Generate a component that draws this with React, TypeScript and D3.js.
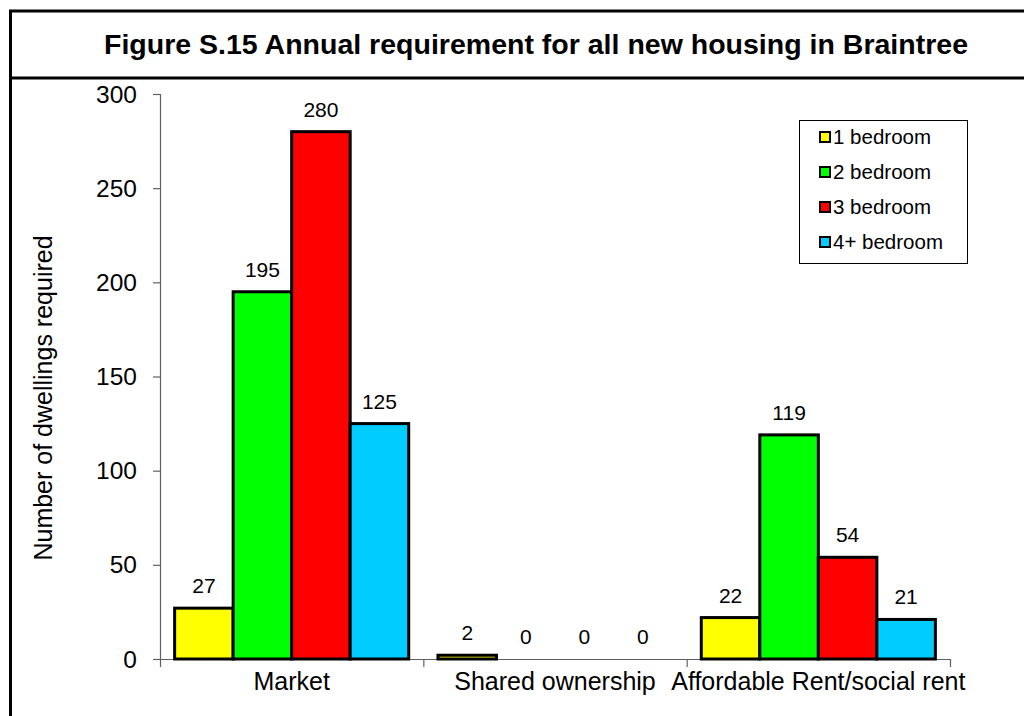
import React, { useEffect, useRef } from "react";
import * as d3 from "d3";

const categories = ["Market", "Shared ownership", "Affordable Rent/social rent"];
const seriesNames = ["1 bedroom", "2 bedroom", "3 bedroom", "4+ bedroom"];
const seriesColors = ["#FFFF00", "#00FF00", "#FF0000", "#00CCFF"];
const oneBed = [27, 2, 22];
const twoBed = [195, 0, 119];
const threeBed = [280, 0, 54];
const fourBed = [125, 0, 21];
const yTicks = [0, 50, 100, 150, 200, 250, 300];
const titleText = "Figure S.15 Annual requirement for all new housing in Braintree";
const yTitle = "Number of dwellings required";

const FONT = "'Liberation Sans', Arial, sans-serif";

export default function App() {
  const ref = useRef<SVGSVGElement>(null);

  useEffect(() => {
    const svg = d3.select(ref.current);
    svg.selectAll("*").remove();
    const plot = { left: 160, right: 950, top: 94, bottom: 659 };

    // frame
    svg.append("rect").attr("x", 10.5).attr("y", 11).attr("width", 1060).attr("height", 720)
      .attr("fill", "white").attr("stroke", "black").attr("stroke-width", 3);
    svg.append("line").attr("x1", 10).attr("x2", 1070).attr("y1", 78).attr("y2", 78)
      .attr("stroke", "black").attr("stroke-width", 3);
    svg.append("text").attr("x", 104).attr("y", 54)
      .attr("font-family", FONT).attr("font-weight", "bold").attr("font-size", 27)
      .attr("textLength", 864).attr("lengthAdjust", "spacingAndGlyphs")
      .text(titleText);

    const y = d3.scaleLinear().domain([0, 300]).range([plot.bottom, plot.top]);
    const x0 = d3.scaleBand().domain(categories).range([plot.left, plot.right]).paddingInner(0).paddingOuter(0);
    const x1 = d3.scaleBand().domain(seriesNames).range([0, x0.bandwidth()]).paddingOuter(0.25).paddingInner(0);

    const series = [oneBed, twoBed, threeBed, fourBed];
    const axisColor = "#606060";

    // y axis
    svg.append("line").attr("x1", plot.left + 0.5).attr("x2", plot.left + 0.5)
      .attr("y1", plot.top).attr("y2", plot.bottom).attr("stroke", axisColor).attr("stroke-width", 1.2);
    yTicks.forEach(t => {
      svg.append("line").attr("x1", plot.left - 7).attr("x2", plot.left)
        .attr("y1", y(t) + 0.5).attr("y2", y(t) + 0.5).attr("stroke", axisColor).attr("stroke-width", 1.2);
      svg.append("text").attr("x", plot.left - 23).attr("y", y(t)).attr("dy", "0.35em")
        .attr("text-anchor", "end").attr("font-family", FONT).attr("font-size", 24.5).text(t);
    });

    // x axis
    svg.append("line").attr("x1", plot.left).attr("x2", plot.right)
      .attr("y1", plot.bottom + 0.5).attr("y2", plot.bottom + 0.5).attr("stroke", axisColor).attr("stroke-width", 1.2);
    const bounds = [...categories.map(c => x0(c) as number), plot.right];
    bounds.forEach(b => {
      svg.append("line").attr("x1", b + 0.5).attr("x2", b + 0.5)
        .attr("y1", plot.bottom).attr("y2", plot.bottom + 8).attr("stroke", axisColor).attr("stroke-width", 1.2);
    });
    categories.forEach(c => {
      svg.append("text").attr("x", (x0(c) as number) + x0.bandwidth() / 2).attr("y", 690)
        .attr("text-anchor", "middle").attr("font-family", FONT).attr("font-size", 25).text(c);
    });

    // bars
    categories.forEach((c, ci) => {
      series.forEach((s, si) => {
        const v = s[ci];
        const bx = (x0(c) as number) + (x1(seriesNames[si]) as number);
        const bw = x1.bandwidth();
        if (v > 0) {
          svg.append("rect").attr("x", bx).attr("y", y(v)).attr("width", bw)
            .attr("height", y(0) - y(v)).attr("fill", seriesColors[si])
            .attr("stroke", "black").attr("stroke-width", 3);
        }
        svg.append("text").attr("x", bx + bw / 2).attr("y", y(v) - 15)
          .attr("text-anchor", "middle").attr("font-family", FONT).attr("font-size", 21).text(v);
      });
    });

    // y title
    svg.append("text").attr("transform", `translate(52,398) rotate(-90)`)
      .attr("text-anchor", "middle").attr("font-family", FONT).attr("font-size", 25).text(yTitle);

    // legend
    const lg = svg.append("g");
    lg.append("rect").attr("x", 799.5).attr("y", 120.5).attr("width", 168).attr("height", 143)
      .attr("fill", "white").attr("stroke", "black").attr("stroke-width", 1);
    seriesNames.forEach((n, i) => {
      const cy = 137 + i * 35;
      lg.append("rect").attr("x", 820).attr("y", cy - 5).attr("width", 10).attr("height", 10)
        .attr("fill", seriesColors[i]).attr("stroke", "black").attr("stroke-width", 2);
      lg.append("text").attr("x", 833).attr("y", cy).attr("dy", "0.35em")
        .attr("font-family", FONT).attr("font-size", 20.5).text(n);
    });
  }, []);

  return (
    <svg ref={ref} width={1024} height={716}
      style={{ position: "absolute", left: 0, top: 0, display: "block", background: "white" }} />
  );
}
